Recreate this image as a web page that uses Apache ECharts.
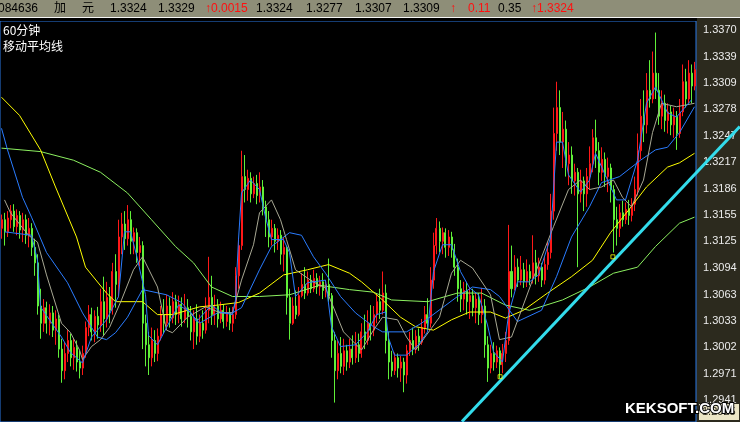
<!DOCTYPE html>
<html><head><meta charset="utf-8">
<script src="https://cdn.jsdelivr.net/npm/echarts@6/dist/echarts.min.js"></script>
<style>html,body{margin:0;padding:0;background:#000;}#c{width:740px;height:422px;}</style>
</head><body><div id="c"></div>
<script>
// ---- data ----
const tickValues = [1.2941,1.2971,1.3002,1.3033,1.3063,1.3094,1.3125,1.3155,1.3186,1.3217,1.3247,1.3278,1.3309,1.3339,1.3370];
const headerTexts = ['084636','加','元','1.3324','1.3329','↑0.0015','1.3324','1.3277','1.3307','1.3309','↑','0.11','0.35','↑1.3324'];
const headerRed   = [false,false,false,false,false,true,false,false,false,false,true,true,false,true];
const titleTexts = ['60分钟','移动平均线'];
const cursorPrice = '1.2925';
// [open, close, low, high]
const ohlc = [
[1.3140,1.3150,1.3128,1.3156],[1.3150,1.3136,1.3120,1.3158],[1.3136,1.3152,1.3130,1.3160],[1.3150,1.3160,1.3140,1.3167],
[1.3160,1.3142,1.3136,1.3168],[1.3142,1.3155,1.3132,1.3162],[1.3155,1.3138,1.3128,1.3160],[1.3138,1.3150,1.3124,1.3158],
[1.3150,1.3132,1.3122,1.3156],[1.3132,1.3140,1.3118,1.3152],[1.3140,1.3118,1.3108,1.3146],[1.3118,1.3100,1.3085,1.3128],
[1.3100,1.3050,1.3040,1.3110],[1.3050,1.3030,1.3012,1.3070],[1.3030,1.3048,1.3020,1.3058],[1.3048,1.3030,1.3018,1.3055],
[1.3030,1.3042,1.3016,1.3052],[1.3042,1.3022,1.3014,1.3050],[1.3022,1.3035,1.3005,1.3045],[1.3035,1.3000,1.2990,1.3040],
[1.3000,1.2975,1.2961,1.3012],[1.2975,1.2995,1.2965,1.3008],[1.2995,1.3010,1.2985,1.3022],[1.3010,1.2990,1.2980,1.3018],
[1.2990,1.3002,1.2976,1.3012],[1.3002,1.2985,1.2974,1.3010],[1.2985,1.2978,1.2966,1.2998],[1.2978,1.2995,1.2970,1.3004],
[1.2995,1.3025,1.2990,1.3032],[1.3025,1.3040,1.3015,1.3051],[1.3040,1.3020,1.3010,1.3048],[1.3020,1.3038,1.3008,1.3045],
[1.3038,1.3028,1.3012,1.3049],[1.3028,1.3055,1.3020,1.3070],[1.3055,1.3035,1.3016,1.3084],[1.3035,1.3060,1.3025,1.3078],
[1.3060,1.3045,1.3030,1.3072],[1.3045,1.3090,1.3040,1.3100],[1.3090,1.3075,1.3048,1.3110],[1.3075,1.3130,1.3060,1.3150],
[1.3130,1.3145,1.3110,1.3158],[1.3145,1.3128,1.3115,1.3160],[1.3128,1.3150,1.3120,1.3167],[1.3150,1.3125,1.3110,1.3160],
[1.3125,1.3135,1.3110,1.3141],[1.3135,1.3112,1.3100,1.3140],[1.3112,1.3120,1.3096,1.3130],[1.3120,1.3030,1.3000,1.3125],
[1.3030,1.3005,1.2980,1.3040],[1.3005,1.2990,1.2970,1.3020],[1.2990,1.3010,1.2980,1.3025],[1.3010,1.2995,1.2985,1.3022],
[1.2995,1.3015,1.2986,1.3024],[1.3015,1.3040,1.3010,1.3050],[1.3040,1.3030,1.3018,1.3058],[1.3030,1.3050,1.3022,1.3063],
[1.3050,1.3036,1.3025,1.3060],[1.3036,1.3055,1.3030,1.3066],[1.3055,1.3040,1.3028,1.3063],[1.3040,1.3052,1.3030,1.3062],
[1.3052,1.3035,1.3026,1.3060],[1.3035,1.3048,1.3030,1.3064],[1.3048,1.3038,1.3025,1.3058],[1.3038,1.3020,1.3010,1.3050],
[1.3020,1.3035,1.3000,1.3045],[1.3035,1.3015,1.3005,1.3052],[1.3015,1.3030,1.3008,1.3040],[1.3030,1.3022,1.3012,1.3045],
[1.3022,1.3045,1.3018,1.3060],[1.3045,1.3060,1.3030,1.3107],[1.3060,1.3040,1.3028,1.3085],[1.3040,1.3050,1.3028,1.3063],
[1.3050,1.3035,1.3025,1.3058],[1.3035,1.3045,1.3030,1.3055],[1.3045,1.3032,1.3024,1.3052],[1.3032,1.3042,1.3026,1.3050],
[1.3042,1.3030,1.3022,1.3048],[1.3030,1.3040,1.3020,1.3049],[1.3040,1.3085,1.3035,1.3095],[1.3085,1.3120,1.3070,1.3128],
[1.3120,1.3200,1.3115,1.3230],[1.3200,1.3185,1.3170,1.3225],[1.3185,1.3198,1.3172,1.3208],[1.3198,1.3180,1.3170,1.3205],
[1.3180,1.3192,1.3175,1.3200],[1.3192,1.3178,1.3168,1.3202],[1.3178,1.3188,1.3170,1.3205],[1.3188,1.3165,1.3155,1.3196],
[1.3165,1.3150,1.3130,1.3172],[1.3150,1.3130,1.3118,1.3160],[1.3130,1.3140,1.3120,1.3150],[1.3140,1.3125,1.3112,1.3145],
[1.3125,1.3132,1.3115,1.3140],[1.3132,1.3110,1.3098,1.3138],[1.3110,1.3118,1.3090,1.3130],[1.3118,1.3060,1.3040,1.3120],
[1.3060,1.3030,1.3011,1.3070],[1.3030,1.3050,1.3028,1.3060],[1.3050,1.3040,1.3035,1.3068],[1.3040,1.3062,1.3038,1.3072],
[1.3062,1.3075,1.3060,1.3088],[1.3075,1.3065,1.3058,1.3095],[1.3065,1.3080,1.3062,1.3090],[1.3080,1.3070,1.3065,1.3086],
[1.3070,1.3082,1.3066,1.3092],[1.3082,1.3072,1.3064,1.3088],[1.3072,1.3078,1.3062,1.3085],[1.3078,1.3068,1.3058,1.3088],
[1.3068,1.3075,1.3060,1.3080],[1.3075,1.3062,1.3055,1.3105],[1.3062,1.3010,1.2990,1.3065],[1.3010,1.2975,1.2938,1.3020],
[1.2975,1.2995,1.2965,1.3010],[1.2995,1.2980,1.2972,1.3014],[1.2980,1.2998,1.2970,1.3012],[1.2998,1.2985,1.2975,1.3005],
[1.2985,1.3000,1.2978,1.3012],[1.3000,1.2990,1.2982,1.3016],[1.2990,1.3005,1.2984,1.3020],[1.3005,1.2995,1.2985,1.3018],
[1.2995,1.3020,1.2990,1.3030],[1.3020,1.3010,1.3000,1.3040],[1.3010,1.3030,1.3005,1.3045],[1.3030,1.3022,1.3010,1.3051],
[1.3022,1.3040,1.3015,1.3050],[1.3040,1.3055,1.3030,1.3065],[1.3055,1.3045,1.3035,1.3070],[1.3045,1.3065,1.3040,1.3090],
[1.3065,1.3010,1.2995,1.3075],[1.3010,1.2985,1.2965,1.3020],[1.2985,1.2975,1.2968,1.2998],[1.2975,1.2990,1.2970,1.2996],
[1.2990,1.2978,1.2967,1.2995],[1.2978,1.2985,1.2962,1.2992],[1.2985,1.2970,1.2950,1.2990],[1.2970,1.2998,1.2960,1.3005],
[1.2998,1.3010,1.2992,1.3020],[1.3010,1.3000,1.2993,1.3025],[1.3000,1.3015,1.2995,1.3022],[1.3015,1.3008,1.2998,1.3024],
[1.3008,1.3025,1.3005,1.3035],[1.3025,1.3040,1.3018,1.3050],[1.3040,1.3030,1.3022,1.3059],[1.3030,1.3080,1.3025,1.3095],
[1.3080,1.3120,1.3070,1.3135],[1.3120,1.3140,1.3110,1.3152],[1.3140,1.3125,1.3112,1.3148],[1.3125,1.3135,1.3110,1.3141],
[1.3135,1.3118,1.3106,1.3140],[1.3118,1.3130,1.3108,1.3138],[1.3130,1.3115,1.3106,1.3136],[1.3115,1.3095,1.3085,1.3122],
[1.3095,1.3070,1.3055,1.3105],[1.3070,1.3058,1.3043,1.3080],[1.3058,1.3068,1.3045,1.3078],[1.3068,1.3055,1.3040,1.3078],
[1.3055,1.3062,1.3035,1.3072],[1.3062,1.3048,1.3038,1.3070],[1.3048,1.3058,1.3030,1.3066],[1.3058,1.3040,1.3028,1.3065],
[1.3040,1.3050,1.3030,1.3071],[1.3050,1.3005,1.2990,1.3058],[1.3005,1.2978,1.2962,1.3015],[1.2978,1.2995,1.2972,1.3005],
[1.2995,1.2985,1.2975,1.3008],[1.2985,1.2998,1.2978,1.3004],[1.2998,1.2982,1.2966,1.3002],[1.2982,1.2995,1.2972,1.3006],
[1.2995,1.3010,1.2985,1.3020],[1.3010,1.3090,1.3005,1.3144],[1.3090,1.3070,1.3060,1.3120],[1.3070,1.3095,1.3068,1.3109],
[1.3095,1.3080,1.3072,1.3105],[1.3080,1.3092,1.3074,1.3108],[1.3092,1.3078,1.3071,1.3100],[1.3078,1.3090,1.3072,1.3104],
[1.3090,1.3082,1.3074,1.3098],[1.3082,1.3100,1.3076,1.3132],[1.3100,1.3085,1.3075,1.3115],[1.3085,1.3095,1.3078,1.3106],
[1.3095,1.3080,1.3072,1.3100],[1.3080,1.3098,1.3075,1.3108],[1.3098,1.3112,1.3092,1.3124],[1.3112,1.3160,1.3105,1.3180],
[1.3160,1.3250,1.3150,1.3280],[1.3250,1.3280,1.3230,1.3310],[1.3280,1.3240,1.3225,1.3300],[1.3240,1.3255,1.3210,1.3275],
[1.3255,1.3215,1.3200,1.3265],[1.3215,1.3225,1.3190,1.3240],[1.3225,1.3195,1.3180,1.3235],[1.3195,1.3205,1.3178,1.3215],
[1.3205,1.3180,1.3095,1.3210],[1.3180,1.3195,1.3170,1.3208],[1.3195,1.3180,1.3160,1.3200],[1.3180,1.3200,1.3165,1.3210],
[1.3200,1.3215,1.3185,1.3235],[1.3215,1.3245,1.3205,1.3255],[1.3245,1.3230,1.3210,1.3266],[1.3230,1.3205,1.3190,1.3240],
[1.3205,1.3220,1.3195,1.3234],[1.3220,1.3200,1.3188,1.3228],[1.3200,1.3210,1.3182,1.3222],[1.3210,1.3185,1.3170,1.3215],
[1.3185,1.3150,1.3112,1.3190],[1.3150,1.3140,1.3120,1.3165],[1.3140,1.3158,1.3130,1.3168],[1.3158,1.3150,1.3142,1.3172],
[1.3150,1.3162,1.3145,1.3170],[1.3162,1.3155,1.3144,1.3173],[1.3155,1.3168,1.3148,1.3175],[1.3168,1.3185,1.3160,1.3200],
[1.3185,1.3230,1.3178,1.3250],[1.3230,1.3270,1.3220,1.3290],[1.3270,1.3260,1.3240,1.3300],[1.3260,1.3300,1.3250,1.3320],
[1.3300,1.3290,1.3280,1.3335],[1.3290,1.3320,1.3285,1.3345],[1.3320,1.3300,1.3290,1.3367],[1.3300,1.3270,1.3260,1.3320],
[1.3270,1.3285,1.3255,1.3300],[1.3285,1.3265,1.3252,1.3295],[1.3265,1.3275,1.3250,1.3285],[1.3275,1.3260,1.3248,1.3282],
[1.3260,1.3270,1.3245,1.3280],[1.3270,1.3250,1.3231,1.3276],[1.3250,1.3275,1.3245,1.3290],[1.3275,1.3310,1.3270,1.3330],
[1.3310,1.3290,1.3280,1.3325],[1.3290,1.3320,1.3285,1.3335],[1.3320,1.3305,1.3285,1.3330],[1.3305,1.3324,1.3300,1.3333]
];
// moving averages: [bar index, value]
const maGreen = [[0,1.3233],[13,1.3229],[24,1.3219],[33,1.3205],[42,1.3181],[50,1.3150],[58,1.3119],[64,1.3100],[70,1.3072],[77,1.3061],[86,1.3061],[96,1.3063],[106,1.3074],[116,1.3069],[124,1.3066],[130,1.3057],[142,1.3055],[152,1.3065],[160,1.3065],[168,1.3051],[176,1.3045],[187,1.3057],[196,1.3072],[204,1.3088],[212,1.3095],[218,1.3119],[226,1.3146],[231,1.3153]];
const maYellow = [[0,1.3292],[6,1.3271],[13,1.3231],[18,1.3188],[25,1.3130],[28,1.3095],[35,1.3065],[38,1.3055],[47,1.3055],[52,1.3040],[57,1.3040],[66,1.3049],[72,1.3051],[79,1.3054],[86,1.3065],[94,1.3086],[102,1.3092],[109,1.3098],[116,1.3088],[120,1.3078],[127,1.3057],[133,1.3037],[138,1.3026],[144,1.3022],[150,1.3034],[156,1.3043],[163,1.3043],[168,1.3036],[174,1.3045],[182,1.3065],[190,1.3084],[197,1.3103],[203,1.3135],[209,1.3161],[215,1.3188],[222,1.3211],[226,1.3216],[231,1.3227]];
const maSlowBlue = [[0,1.3256],[2,1.3231],[7,1.3176],[10,1.3153],[15,1.3112],[22,1.3077],[27,1.3042],[32,1.3014],[35,1.3011],[38,1.3019],[42,1.3037],[47,1.3069],[55,1.3063],[60,1.3054],[66,1.3030],[72,1.3042],[77,1.3042],[80,1.3048],[86,1.3092],[90,1.3119],[96,1.3135],[100,1.3132],[104,1.3107],[108,1.3088],[113,1.3061],[118,1.3042],[124,1.3026],[127,1.3020],[135,1.3020],[140,1.3030],[152,1.3061],[157,1.3072],[163,1.3069],[166,1.3061],[172,1.3032],[180,1.3045],[185,1.3084],[190,1.3130],[196,1.3165],[200,1.3193],[206,1.3200],[213,1.3219],[218,1.3231],[222,1.3234],[226,1.3251],[231,1.3281]];
const maGrey = [[1,1.3173],[3,1.3158],[9,1.3132],[12,1.3124],[15,1.3086],[20,1.3030],[23,1.3019],[26,1.2999],[27,1.2988],[30,1.3003],[33,1.3011],[36,1.3025],[40,1.3057],[44,1.3092],[47,1.3107],[52,1.3072],[55,1.3022],[57,1.3019],[62,1.3037],[68,1.3049],[73,1.3042],[77,1.3042],[80,1.3080],[84,1.3121],[86,1.3158],[90,1.3173],[93,1.3150],[95,1.3127],[98,1.3092],[103,1.3080],[106,1.3074],[108,1.3071],[112,1.3037],[114,1.3020],[120,1.2999],[124,1.3022],[127,1.3037],[132,1.3034],[135,1.3014],[138,1.2999],[146,1.3037],[150,1.3088],[153,1.3103],[157,1.3094],[163,1.3063],[166,1.3011],[170,1.3014],[177,1.3080],[184,1.3142],[189,1.3185],[193,1.3196],[196,1.3185],[200,1.3188],[204,1.3196],[207,1.3176],[210,1.3165],[214,1.3196],[217,1.3251],[220,1.3285],[225,1.3281],[231,1.3285]];
const maFastBlue = [[1,1.3136],[10,1.3132],[12,1.3103],[13,1.3049],[16,1.3034],[20,1.3014],[23,1.2996],[27,1.2984],[30,1.3014],[35,1.3034],[39,1.3061],[41,1.3136],[43,1.3136],[45,1.3109],[48,1.3063],[49,1.3016],[52,1.3005],[55,1.3025],[59,1.3051],[63,1.3043],[65,1.3032],[70,1.3051],[73,1.3043],[77,1.3040],[78,1.3057],[79,1.3127],[80,1.3181],[83,1.3196],[86,1.3185],[88,1.3153],[90,1.3127],[94,1.3127],[96,1.3112],[98,1.3061],[102,1.3077],[108,1.3080],[110,1.3026],[113,1.3003],[118,1.3005],[122,1.3020],[125,1.3040],[128,1.3043],[129,1.3013],[131,1.2993],[135,1.2993],[139,1.3005],[142,1.3020],[144,1.3090],[147,1.3121],[150,1.3121],[153,1.3090],[156,1.3071],[159,1.3063],[162,1.3028],[164,1.2997],[167,1.2985],[169,1.3040],[172,1.3078],[176,1.3078],[179,1.3086],[183,1.3129],[185,1.3240],[187,1.3240],[189,1.3202],[193,1.3182],[196,1.3196],[198,1.3227],[202,1.3196],[205,1.3173],[208,1.3173],[212,1.3219],[215,1.3285],[218,1.3304],[222,1.3274],[225,1.3269],[230,1.3289]];
// hand-drawn trend line and its two anchor marks: [bar index, price]
const trendLine = [[153.5,1.2916],[246.1,1.3258]];
const trendAnchors = [[166.2,1.2968],[203.8,1.3107]];

// ---- chart ----
const chart = echarts.init(document.getElementById('c'), null, {renderer:'canvas'});
const hdrFont = '12px "Liberation Sans","Noto Sans CJK SC",sans-serif';
const hdrX = [-2,54,82,110,158,205,256,306,355,403,450,468,498,531];
const graphic = [
  {type:'rect', shape:{x:0,y:0,width:740,height:17}, style:{fill:'#8e8e78'}, z:100},
  {type:'rect', shape:{x:0,y:17,width:740,height:1}, style:{fill:'#f4f4f4'}, z:100},
  {type:'rect', shape:{x:0,y:18,width:697,height:3}, style:{fill:'#000'}, z:100}
];
headerTexts.forEach((t,i)=>graphic.push({type:'text', x:hdrX[i], y:9, z:101,
  style:{text:t, font:hdrFont, fill: headerRed[i] ? '#ff1010' : '#000', verticalAlign:'middle'}}));
titleTexts.forEach((t,i)=>graphic.push({type:'text', x:3, y:30+i*16, z:101,
  style:{text:t, font:'12px "Noto Sans CJK SC",sans-serif', fill:'#fff', verticalAlign:'middle'}}));
graphic.push({type:'rect', shape:{x:699,y:404,width:40,height:16}, style:{fill:'#ebe5c5'}, z:101});
graphic.push({type:'text', x:702, y:412, z:102, style:{text:cursorPrice, font:'11px "Liberation Sans"', fill:'#2c2a1e', verticalAlign:'middle'}});
graphic.push({type:'text', x:625, y:409, z:103, style:{text:'KEKSOFT.COM', font:'bold 15px "Liberation Sans"', fill:'#fff', stroke:'#000', lineWidth:2, verticalAlign:'middle'}});

const lineS = (data,color)=>({type:'line', xAxisIndex:1, yAxisIndex:0, data, showSymbol:false, symbol:'none', silent:true,
  lineStyle:{color, width:1}, z:3});
const yMin = 1.29155, yMax = 1.33804;
const nBars = ohlc.length;

chart.setOption({
  backgroundColor:'#2c2a1e',
  animation:false,
  grid:[
    {left:0, right:44, top:21, bottom:0, show:true, backgroundColor:'#000', borderColor:'#2a78e4', borderWidth:1},
    {left:0, right:0, top:21, bottom:0, show:false}
  ],
  xAxis:[
    {type:'category', gridIndex:0, data:ohlc.map((_,i)=>i), show:false, boundaryGap:true},
    {type:'value', gridIndex:0, min:-0.5, max:nBars-0.5, show:false},
    {type:'value', gridIndex:1, min:-0.5, max:-0.5 + nBars*740/(740-44), show:false}
  ],
  yAxis:[
    {type:'value', gridIndex:0, position:'right', min:yMin, max:yMax, scale:true,
     splitLine:{show:false}, axisLine:{show:false}, axisTick:{show:false},
     axisLabel:{customValues:tickValues, formatter:v=>v.toFixed(4), color:'#ececec', fontSize:11, fontFamily:'Liberation Sans', margin:7}},
    {type:'value', gridIndex:1, min:yMin, max:yMax, show:false}
  ],
  series:[
    {type:'candlestick', xAxisIndex:0, yAxisIndex:0, data:ohlc, barWidth:1.5, silent:true,
     itemStyle:{color:'#ff1818', color0:'#60f038', borderColor:'#ff1818', borderColor0:'#60f038', borderWidth:1}},
    lineS(maGreen,'#8cf060'),
    lineS(maYellow,'#ffff00'),
    lineS(maSlowBlue,'#2a7cff'),
    lineS(maGrey,'#a8a894'),
    lineS(maFastBlue,'#2a7cff'),
    {type:'line', xAxisIndex:2, yAxisIndex:1, data:trendLine, showSymbol:false, symbol:'none', silent:true,
     lineStyle:{color:'#33dcec', width:3}, z:5},
    {type:'scatter', xAxisIndex:2, yAxisIndex:1, data:trendAnchors, symbol:'rect', symbolSize:4, silent:true,
     itemStyle:{color:'rgba(0,0,0,0)', borderColor:'#ffff00', borderWidth:1}, z:6}
  ],
  graphic
});
</script></body></html>
